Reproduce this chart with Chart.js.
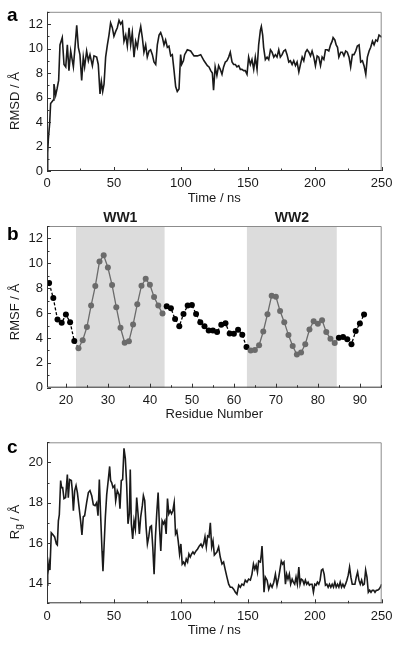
<!DOCTYPE html>
<html>
<head>
<meta charset="utf-8">
<script src="https://cdn.jsdelivr.net/npm/chart.js@4.4.0/dist/chart.umd.min.js"></script>
<style>
  body { margin: 0; background: #fff; }
  #wrap { position: relative; width: 400px; height: 646px; overflow: hidden; }
  canvas { position: absolute; left: 0; }
</style>
</head>
<body>
<div id="wrap">
  <canvas id="rmsdChart" style="top:0px" width="400" height="212"></canvas>
  <canvas id="rmsfChart" style="top:210px" width="400" height="212"></canvas>
  <canvas id="rgChart" style="top:420px" width="400" height="226"></canvas>
</div>
<script>
// panel a - RMSD over time
var rmsdTime = [0, 0.5, 1, 2, 2.7, 4.7, 5.2, 6.5, 7.5, 8.7, 9.7, 11.4, 12.7, 14, 15.2, 16.4, 17.7, 19.7, 20.9, 22.2,
  23.4, 24.6, 25.9, 27.1, 28.1, 29.6, 30.9, 32.1, 33.9, 35.1, 37.1, 38.3, 39.6, 40.6, 41.6, 42.6, 43.8, 45.1, 46.3, 47.5,
  48.8, 50, 51.3, 52.5, 53.8, 55, 56.3, 57.5, 58.8, 60, 61.3, 62.5, 63.7, 65, 66.2, 67.5, 68.7, 70, 71.2, 72.4,
  73.7, 74.9, 76.2, 77.4, 78.7, 79.9, 81.2, 82.4, 83.7, 84.9, 86.2, 87.4, 88.6, 89.9, 91.1, 92.4, 93.6, 94.9, 96.1, 97.3,
  98.6, 99.8, 100.6, 101.9, 102.8, 104.8, 107.3, 109.8, 112.3, 114.8, 117.3, 119.8, 121, 122.3, 123.5, 124.4, 125.6, 126.9, 128.2, 129.4,
  130.7, 131.9, 133.2, 134.4, 135.7, 136.9, 138.2, 139.4, 140.7, 141.9, 143.2, 144.4, 145.6, 146.9, 148.1, 149.4, 150.6, 151.9, 153.1, 154.4,
  155.6, 156.9, 158.1, 159.4, 160.1, 161.1, 161.8, 163.1, 164.4, 165.6, 166.9, 168.1, 169.4, 170.6, 171.8, 173.1, 174.3, 175.6, 176.8, 178.1,
  179.3, 180.6, 181.8, 183.1, 184.3, 185.6, 186.8, 188.1, 189.3, 190.6, 191.8, 193.1, 194.3, 195.6, 196.8, 198, 199.3, 200.5, 201.8, 203,
  204.3, 205.5, 206.8, 208, 209.3, 210.5, 211.8, 213, 213.7, 215, 216, 217, 218, 219.4, 220.6, 221.8, 223.1, 224.3, 225.6, 226.8,
  228.1, 229.3, 230.6, 231.8, 233.1, 234.3, 235.6, 236.8, 238.1, 239.3, 240.6, 241.8, 243.1, 244.3, 245.6, 246.8, 248, 249.3, 250];
var rmsdValue = [0.1, 1.5, 2.6, 3.9, 5.5, 5.8, 7.1, 6.2, 6.7, 7.4, 10.3, 10.9, 8.7, 8.5, 10.3, 8.2, 9.8, 8.5, 10.1, 11.9,
  10.1, 9.5, 7.4, 9.3, 8.5, 9.8, 9.0, 9.5, 8.6, 9.4, 9.3, 8.7, 6.3, 7.3, 6.5, 7.1, 9.3, 10.3, 11.1, 12.1,
  11.7, 11.0, 11.4, 11.7, 12.3, 12.0, 12.2, 10.6, 11.1, 10.2, 11.7, 10.3, 11.3, 9.3, 10.6, 10.1, 11.1, 11.8, 10.9, 9.7,
  10.3, 9.3, 9.8, 9.9, 9.5, 8.9, 8.7, 10.3, 11.1, 11.3, 10.9, 10.3, 10.7, 10.1, 10.2, 9.4, 9.5, 8.2, 6.9, 6.5,
  6.7, 9.5, 8.7, 9.0, 9.5, 9.9, 9.8, 9.4, 9.4, 9.5, 9.0, 8.6, 8.5, 8.2, 8.0, 6.6, 8.5, 7.8, 8.6, 8.3,
  7.9, 8.5, 8.9, 9.0, 9.3, 9.7, 8.9, 8.7, 8.7, 8.5, 8.6, 8.3, 8.3, 8.2, 8.2, 7.9, 9.3, 8.7, 9.1, 8.3,
  9.3, 8.3, 10.3, 11.5, 11.8, 11.1, 10.1, 9.1, 9.3, 9.1, 9.9, 9.7, 9.3, 9.5, 9.3, 9.9, 9.3, 9.5, 9.8, 9.9,
  9.5, 8.9, 9.0, 8.7, 9.0, 8.6, 8.9, 8.1, 8.7, 9.3, 9.0, 9.7, 9.9, 9.7, 9.4, 9.8, 9.3, 8.6, 9.4, 9.3,
  8.6, 9.3, 9.1, 9.9, 9.9, 9.8, 10.3, 10.6, 10.9, 10.7, 10.3, 10.1, 9.3, 9.7, 9.7, 9.4, 9.8, 9.7, 9.3, 8.5,
  9.5, 9.5, 9.8, 10.2, 10.3, 8.9, 9.0, 8.6, 7.9, 9.3, 9.8, 10.1, 10.6, 10.3, 10.7, 10.6, 11.1, 11.0, 10.9];

// panel b - RMSF per residue
var residues = [16, 17, 18, 19, 20, 21, 22, 23, 24, 25, 26, 27, 28, 29, 30, 31, 32, 33, 34, 35,
  36, 37, 38, 39, 40, 41, 42, 43, 44, 45, 46, 47, 48, 49, 50, 51, 52, 53, 54, 55,
  56, 57, 58, 59, 60, 61, 62, 63, 64, 65, 66, 67, 68, 69, 70, 71, 72, 73, 74, 75,
  76, 77, 78, 79, 80, 81, 82, 83, 84, 85, 86, 87, 88, 89, 90, 91];
var rmsfValue = [8.41, 7.21, 5.48, 5.22, 5.88, 5.27, 3.75, 3.17, 3.81, 4.87, 6.6, 8.17, 10.14, 10.64, 9.66, 8.25, 6.47, 4.82, 3.62, 3.73,
  5.08, 6.71, 8.2, 8.75, 8.28, 7.29, 6.6, 5.96, 6.55, 6.39, 5.53, 4.95, 5.93, 6.6, 6.65, 5.93, 5.27, 4.95, 4.6, 4.6,
  4.47, 5.06, 5.19, 4.36, 4.34, 4.66, 4.26, 3.27, 3.0, 3.03, 3.41, 4.52, 5.91, 7.4, 7.32, 6.17, 5.27, 4.23, 3.35, 2.66,
  2.82, 3.49, 4.68, 5.35, 5.14, 5.43, 4.47, 3.94, 3.59, 4.02, 4.07, 3.89, 3.49, 4.55, 5.16, 5.88];
var domainNames = ['WW1', 'WW2'];
var domainStart = [22.4, 63.1];
var domainEnd = [43.5, 84.5];

// panel c - radius of gyration over time
var rgTime = [0, 0.5, 1, 1.5, 2.2, 3.2, 4.5, 5.7, 7, 7.7, 8.5, 9.2, 10.2, 10.9, 11.7, 12.7, 13.9, 15.2, 15.9, 16.9,
  18.2, 18.9, 19.7, 20.7, 21.7, 22.7, 23.9, 25.1, 26.1, 27.1, 28.1, 29.6, 30.9, 32.1, 33.4, 34.6, 35.9, 37.1, 38.1, 39.1,
  40.1, 41.1, 41.8, 42.6, 43.6, 44.6, 45.8, 46.8, 47.5, 48.3, 49.3, 50.5, 51.3, 52.5, 53.8, 54.5, 55.5, 56.5, 57.5, 58.5,
  59.5, 60.5, 61.5, 62.2, 63, 64, 65, 66, 67, 68, 69, 70, 71.2, 72, 73, 74, 75, 76, 77, 78,
  79, 80, 81, 82, 83, 84, 85, 86, 87, 88, 89, 90, 91, 92, 93, 94, 95, 96, 97, 98,
  99, 100, 101, 102, 103, 104, 105, 106, 107, 108, 109, 110, 111.3, 112.5, 113.8, 115, 116, 117, 118, 119,
  120, 121, 122, 123, 124, 125, 126.9, 128.2, 129.4, 130.7, 131.9, 133.2, 134.4, 135.7, 136.9, 138.2, 139.4, 140.7, 141.9, 143.2,
  144.4, 145.6, 146.9, 148.1, 149.4, 150.6, 151.9, 153.1, 154.2, 155.2, 156.2, 157.2, 158.1, 159.4, 160.1, 160.6, 161.4, 162.1, 163.1, 164.4,
  165.6, 166.9, 168.1, 169.4, 170.6, 171.8, 173.1, 174.3, 175, 176, 177, 178.1, 179, 180, 181, 182, 183.1, 184, 185, 186,
  187, 188.1, 189, 190, 191, 192, 193, 194, 195, 196, 197, 198, 199, 200, 201, 202, 203, 204, 205, 206,
  207, 208, 209, 210, 211, 212, 213, 214, 215, 216, 217, 218, 219, 220, 221, 222, 223, 224, 225, 226,
  227, 228, 229, 230, 231, 232, 233, 234, 235, 236, 237, 238, 239, 240, 241, 242, 243, 244, 245, 246,
  247, 248, 249, 250];
var rgValue = [13.9, 15.0, 14.7, 15.0, 14.65, 16.5, 16.4, 16.3, 15.95, 15.9, 17.1, 17.4, 19.1, 18.75, 18.75, 18.2, 18.25, 19.4, 18.25, 19.15,
  19.1, 18.6, 17.6, 18.6, 18.85, 18.5, 17.8, 17.1, 16.4, 17.3, 17.35, 18.0, 18.5, 18.6, 18.35, 17.9, 17.85, 18.0, 17.35, 19.15,
  17.3, 15.6, 14.6, 15.8, 17.3, 18.4, 19.15, 19.8, 19.1, 19.0, 18.75, 18.85, 18.1, 18.6, 18.4, 17.7, 19.1, 19.15, 20.7, 20.2,
  18.9, 16.95, 17.45, 19.65, 16.95, 16.2, 17.1, 16.7, 18.25, 17.45, 16.45, 17.3, 17.85, 18.35, 18.1, 16.8, 15.95, 16.3, 16.8, 16.85,
  15.8, 14.45, 16.3, 17.5, 18.5, 16.8, 15.6, 17.1, 16.95, 17.1, 16.45, 18.2, 17.45, 17.6, 17.45, 17.6, 18.0, 16.45, 16.6, 16.1,
  15.45, 15.95, 14.95, 15.05, 14.9, 15.2, 15.05, 15.45, 15.3, 15.45, 15.55, 15.45, 15.6, 15.7, 15.85, 15.95, 15.8, 15.95, 16.3, 15.8,
  16.35, 16.3, 17.0, 15.8, 16.1, 15.4, 15.55, 15.8, 15.3, 14.95, 15.05, 14.65, 14.3, 13.95, 13.8, 13.8, 13.7, 13.55, 13.45, 13.9,
  13.8, 13.95, 13.9, 14.15, 14.05, 14.2, 14.15, 14.45, 14.95, 14.7, 14.9, 14.55, 15.1, 15.05, 15.45, 15.85, 14.8, 13.55, 14.3, 14.15,
  13.7, 13.95, 13.8, 14.05, 14.45, 13.9, 14.3, 14.8, 15.1, 14.95, 15.05, 13.95, 14.45, 14.2, 14.45, 13.95, 14.2, 14.05, 13.95, 14.3,
  13.95, 14.8, 13.95, 14.2, 14.15, 13.95, 14.15, 13.95, 14.05, 13.9, 13.95, 13.95, 13.55, 13.95, 13.9, 14.05, 13.95, 14.15, 14.65, 14.7,
  14.45, 13.9, 13.95, 13.8, 13.95, 13.8, 13.95, 13.8, 14.05, 13.8, 13.95, 13.8, 14.05, 13.8, 13.95, 13.8, 13.95, 14.15, 14.4, 14.8,
  14.3, 13.95, 13.95, 13.95, 14.3, 14.55, 14.15, 13.95, 14.15, 13.9, 13.95, 14.65, 14.3, 13.55, 13.65, 13.55, 13.65, 13.65, 13.55, 13.65,
  13.65, 13.7, 13.8, 13.95];

var FONT = '"Liberation Sans", Arial, sans-serif';
var INK = '#1a1a1a';
var GREY_PT = '#6b6b6b';

function pairs(xs, ys) {
  return xs.map(function (x, i) { return { x: x, y: ys[i] }; });
}

function inDomain(r) {
  for (var i = 0; i < domainStart.length; i++) {
    if (r >= domainStart[i] && r <= domainEnd[i]) return true;
  }
  return false;
}

function stepsBetween(min, max, step) {
  var out = [];
  var i0 = Math.ceil(min / step - 1e-9), i1 = Math.floor(max / step + 1e-9);
  for (var i = i0; i <= i1; i++) out.push(+(i * step).toFixed(6));
  return out;
}

// frame, inward ticks, titles, panel letter and shaded domains
var panelDeco = {
  id: 'panelDeco',
  beforeDatasetsDraw: function (chart, args, o) {
    if (!o.bands) return;
    var ctx = chart.ctx, a = chart.chartArea, x = chart.scales.x;
    ctx.save();
    o.bands.forEach(function (b) {
      var x0 = x.getPixelForValue(b.from), x1 = x.getPixelForValue(b.to);
      ctx.fillStyle = '#dcdcdc';
      ctx.fillRect(x0, a.top, x1 - x0, a.bottom - a.top);
      ctx.fillStyle = INK;
      ctx.font = 'bold 14px ' + FONT;
      ctx.textAlign = 'center';
      ctx.textBaseline = 'middle';
      ctx.fillText(b.label, (x0 + x1) / 2, o.bandLabelY);
    });
    ctx.restore();
  },
  afterDraw: function (chart, args, o) {
    var ctx = chart.ctx, a = chart.chartArea, x = chart.scales.x, y = chart.scales.y;
    ctx.save();
    // top / right frame
    ctx.strokeStyle = '#8c8c8c';
    ctx.lineWidth = 1;
    ctx.beginPath();
    ctx.moveTo(a.left, a.top + 0.5);
    ctx.lineTo(a.right - 0.5, a.top + 0.5);
    ctx.lineTo(a.right - 0.5, a.bottom);
    ctx.stroke();
    // axes
    ctx.strokeStyle = '#333';
    ctx.beginPath();
    ctx.moveTo(a.left + 0.5, a.top);
    ctx.lineTo(a.left + 0.5, a.bottom - 0.5);
    ctx.lineTo(a.right, a.bottom - 0.5);
    ctx.stroke();
    // inward ticks
    ctx.beginPath();
    stepsBetween(x.min, x.max, o.xMinor).forEach(function (v) {
      var px = Math.round(x.getPixelForValue(v)) + 0.5;
      var len = (Math.abs(v / o.xMajor - Math.round(v / o.xMajor)) < 1e-6) ? 4 : 2.5;
      ctx.moveTo(px, a.bottom);
      ctx.lineTo(px, a.bottom - len);
    });
    stepsBetween(y.min, y.max, o.yMinor).forEach(function (v) {
      var py = Math.round(y.getPixelForValue(v)) + 0.5;
      var len = (Math.abs(v / o.yMajor - Math.round(v / o.yMajor)) < 1e-6) ? 4 : 2.5;
      ctx.moveTo(a.left, py);
      ctx.lineTo(a.left + len, py);
    });
    ctx.stroke();

    // x title
    ctx.fillStyle = INK;
    ctx.font = '13px ' + FONT;
    ctx.textAlign = 'center';
    ctx.textBaseline = 'middle';
    ctx.fillText(o.xTitle, (a.left + a.right) / 2, o.xTitleY);

    // y title, rotated, optional subscript
    ctx.save();
    ctx.translate(o.yTitleX, o.yTitleY);
    ctx.rotate(-Math.PI / 2);
    ctx.textAlign = 'left';
    ctx.textBaseline = 'middle';
    var parts = o.yTitle;
    var widths = parts.map(function (p) {
      ctx.font = (p.sub ? '10px ' : '13px ') + FONT;
      return ctx.measureText(p.t).width;
    });
    var total = widths.reduce(function (s, w) { return s + w; }, 0);
    var cx = -total / 2;
    parts.forEach(function (p, i) {
      ctx.font = (p.sub ? '10px ' : '13px ') + FONT;
      ctx.fillText(p.t, cx, p.sub ? 4 : 0);
      cx += widths[i];
    });
    ctx.restore();

    // panel letter
    ctx.font = 'bold 19px ' + FONT;
    ctx.textAlign = 'left';
    ctx.textBaseline = 'alphabetic';
    ctx.fillStyle = '#000';
    ctx.fillText(o.letter, 7, o.letterY);
    ctx.restore();
  }
};

function fixedTicks(step) {
  return function (s) {
    s.ticks = stepsBetween(s.min, s.max, step).map(function (v) { return { value: v }; });
  };
}

function axisX(min, max, step, h) {
  return {
    type: 'linear', min: min, max: max,
    grid: { display: false, drawTicks: false },
    border: { display: false },
    ticks: { autoSkip: false, maxRotation: 0, padding: 5,
      color: INK, font: { family: FONT, size: 13 } },
    afterBuildTicks: fixedTicks(step),
    afterFit: function (s) { s.height = h; }
  };
}

function axisY(min, max, step) {
  return {
    type: 'linear', min: min, max: max,
    grid: { display: false, drawTicks: false },
    border: { display: false },
    ticks: { autoSkip: false, padding: 4,
      color: INK, font: { family: FONT, size: 13 } },
    afterBuildTicks: fixedTicks(step),
    afterFit: function (s) { s.width = 47; }
  };
}

Chart.register(panelDeco);

new Chart(document.getElementById('rmsdChart'), {
  type: 'line',
  data: { datasets: [{ data: pairs(rmsdTime, rmsdValue), borderColor: INK, borderWidth: 1.6, pointRadius: 0, tension: 0 }] },
  options: {
    responsive: false, animation: false,
    layout: { padding: { top: 9.3, right: 18.3, left: 0, bottom: 0 } },
    plugins: { legend: { display: false }, tooltip: { enabled: false },
      panelDeco: { xMajor: 50, xMinor: 25, yMajor: 2, yMinor: 1, xTitle: 'Time / ns', xTitleY: 198,
        yTitle: [{ t: 'RMSD / Å' }], yTitleX: 15.5, yTitleY: 101, letter: 'a', letterY: 21 } },
    scales: { x: axisX(0, 250, 50, 41), y: axisY(0, 13, 2) }
  }
});

new Chart(document.getElementById('rmsfChart'), {
  type: 'line',
  data: { datasets: [{
    data: pairs(residues, rmsfValue),
    borderWidth: 1.3, tension: 0,
    pointRadius: 3, pointBorderWidth: 0,
    pointBackgroundColor: function (c) { return inDomain(residues[c.dataIndex]) ? GREY_PT : '#000'; },
    pointBorderColor: function (c) { return inDomain(residues[c.dataIndex]) ? GREY_PT : '#000'; },
    segment: {
      borderColor: function (c) { return (inDomain(c.p0.parsed.x) && inDomain(c.p1.parsed.x)) ? GREY_PT : '#000'; },
      borderDash: function (c) { return (inDomain(c.p0.parsed.x) && inDomain(c.p1.parsed.x)) ? [] : [3, 2]; }
    }
  }] },
  options: {
    responsive: false, animation: false,
    layout: { padding: { top: 16, right: 18.3, left: 0, bottom: 0 } },
    plugins: { legend: { display: false }, tooltip: { enabled: false },
      panelDeco: { xMajor: 10, xMinor: 5, yMajor: 2, yMinor: 1, xTitle: 'Residue Number', xTitleY: 204,
        yTitle: [{ t: 'RMSF / Å' }], yTitleX: 15.5, yTitleY: 102, letter: 'b', letterY: 30,
        bands: domainNames.map(function (n, i) { return { label: n, from: domainStart[i], to: domainEnd[i] }; }),
        bandLabelY: 8.5 } },
    scales: { x: axisX(15.5, 95.2, 10, 34.3), y: axisY(0, 13, 2) }
  }
});

new Chart(document.getElementById('rgChart'), {
  type: 'line',
  data: { datasets: [{ data: pairs(rgTime, rgValue), borderColor: INK, borderWidth: 1.6, pointRadius: 0, tension: 0 }] },
  options: {
    responsive: false, animation: false,
    layout: { padding: { top: 22.3, right: 18.3, left: 0, bottom: 0 } },
    plugins: { legend: { display: false }, tooltip: { enabled: false },
      panelDeco: { xMajor: 50, xMinor: 25, yMajor: 2, yMinor: 1, xTitle: 'Time / ns', xTitleY: 210,
        yTitle: [{ t: 'R' }, { t: 'g', sub: true }, { t: ' / Å' }], yTitleX: 15.5, yTitleY: 102, letter: 'c', letterY: 33 } },
    scales: { x: axisX(0, 250, 50, 42.7), y: axisY(13, 21, 2) }
  }
});
</script>
</body>
</html>
